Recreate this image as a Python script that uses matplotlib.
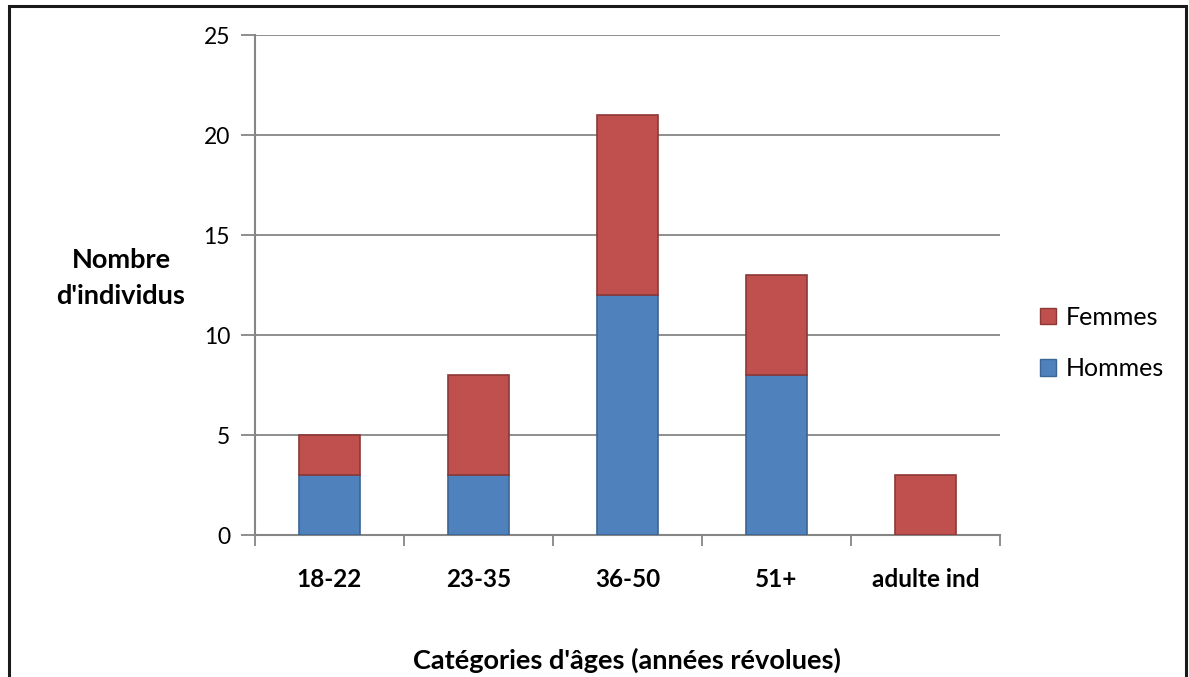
import matplotlib
matplotlib.use("Agg")
import matplotlib.pyplot as plt
from matplotlib.patches import Rectangle, Patch

plt.rcParams['font.family'] = ['Lato', 'DejaVu Sans']

# age groups and counts per sex
categories = ["18-22", "23-35", "36-50", "51+", "adulte ind"]
hommes = [3, 3, 12, 8, 0]
femmes = [2, 5, 9, 5, 3]
y_ticks = [0, 5, 10, 15, 20, 25]

blue = "#4f81bd"
blue_edge = "#3a6594"
red = "#c0504d"
red_edge = "#8c3836"
axis_grey = "#868686"

W, H = 1189, 677
fig = plt.figure(figsize=(W / 100, H / 100), dpi=100)
ax = fig.add_axes([255 / W, 1 - 535 / H, (1000 - 255) / W, (535 - 35) / H])

x = list(range(len(categories)))
ax.bar(x, hommes, width=0.41, color=blue, edgecolor=blue_edge, linewidth=1.2, zorder=3)
ax.bar(x, femmes, width=0.41, bottom=hommes, color=red, edgecolor=red_edge, linewidth=1.2, zorder=3)

ax.set_xlim(-0.5, len(categories) - 0.5)
ax.set_ylim(0, 25)
ax.set_yticks(y_ticks)
ax.yaxis.grid(True, color=axis_grey, linewidth=1.3, zorder=0)

for s in ["top", "right"]:
    ax.spines[s].set_visible(False)
for s in ["left", "bottom"]:
    ax.spines[s].set_color(axis_grey)
    ax.spines[s].set_linewidth(1.5)

ax.tick_params(axis="y", length=10, width=1.3, color=axis_grey, labelsize=16.5, pad=8)
ax.set_xticks(x)
ax.set_xticklabels(categories, fontsize=17.5, fontweight="bold")
ax.tick_params(axis="x", length=0, pad=24)
# category boundary ticks
ax.set_xticks([i - 0.5 for i in range(len(categories) + 1)], minor=True)
ax.tick_params(axis="x", which="minor", length=8, width=1.3, color=axis_grey)

fig.text(627 / W, 1 - 660 / H, "Catégories d'âges (années révolues)", fontsize=19.5,
         fontweight="bold", ha="center", va="center")
fig.text(121 / W, 1 - 278 / H, "Nombre\nd'individus", fontsize=19.5, fontweight="bold",
         ha="center", va="center", linespacing=1.6)

handles = [Patch(facecolor=red, edgecolor=red_edge, label="Femmes"),
           Patch(facecolor=blue, edgecolor=blue_edge, label="Hommes")]
fig.legend(handles=handles, loc="center left", bbox_to_anchor=(1040 / W, 1 - 343 / H),
           frameon=False, fontsize=18, handlelength=0.65, handleheight=0.65,
           handletextpad=0.4, labelspacing=1.15, borderaxespad=0, borderpad=0)

# outer frame
fig.patches.append(Rectangle((8.5 / W, -0.1), (1186 - 8.5) / W, 1.1 - 5.5 / H,
                             transform=fig.transFigure, fill=False,
                             edgecolor="#1a1a1a", linewidth=2.2))

fig.savefig("out.png", dpi=100)
